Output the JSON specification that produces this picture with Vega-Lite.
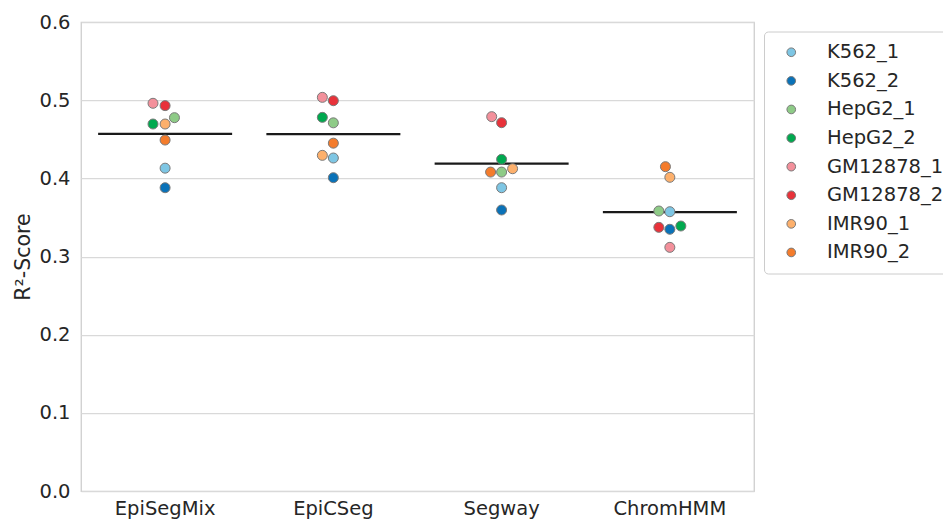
{
  "$schema": "https://vega.github.io/schema/vega-lite/v6.json",
  "width": 673,
  "height": 469,
  "autosize": "none",
  "padding": {"left": 81, "top": 22, "right": 200, "bottom": 30},
  "config": {
    "font": "DejaVu Sans",
    "view": {"stroke": "#cccccc", "strokeWidth": 1.25},
    "axis": {"labelFont": "DejaVu Sans", "titleFont": "DejaVu Sans", "labelColor": "#262626", "titleColor": "#262626", "labelFontSize": 19.5, "titleFontSize": 20.5, "titleFontWeight": "normal", "domain": false, "ticks": false}
  },
  "data": {
    "values": [
      {"method": "EpiSegMix", "sample": "K562_1", "r2": 0.413, "swarm": 0},
      {"method": "EpiSegMix", "sample": "K562_2", "r2": 0.388, "swarm": 0},
      {"method": "EpiSegMix", "sample": "HepG2_1", "r2": 0.4776, "swarm": 0.85},
      {"method": "EpiSegMix", "sample": "HepG2_2", "r2": 0.4695, "swarm": -1.1},
      {"method": "EpiSegMix", "sample": "GM12878_1", "r2": 0.496, "swarm": -1.1},
      {"method": "EpiSegMix", "sample": "GM12878_2", "r2": 0.493, "swarm": 0},
      {"method": "EpiSegMix", "sample": "IMR90_1", "r2": 0.4695, "swarm": 0},
      {"method": "EpiSegMix", "sample": "IMR90_2", "r2": 0.449, "swarm": 0},
      {"method": "EpiCSeg", "sample": "K562_1", "r2": 0.426, "swarm": 0},
      {"method": "EpiCSeg", "sample": "K562_2", "r2": 0.4008, "swarm": 0},
      {"method": "EpiCSeg", "sample": "HepG2_1", "r2": 0.471, "swarm": 0},
      {"method": "EpiCSeg", "sample": "HepG2_2", "r2": 0.478, "swarm": -1},
      {"method": "EpiCSeg", "sample": "GM12878_1", "r2": 0.5036, "swarm": -1},
      {"method": "EpiCSeg", "sample": "GM12878_2", "r2": 0.4993, "swarm": 0},
      {"method": "EpiCSeg", "sample": "IMR90_1", "r2": 0.4294, "swarm": -1},
      {"method": "EpiCSeg", "sample": "IMR90_2", "r2": 0.445, "swarm": 0},
      {"method": "Segway", "sample": "K562_1", "r2": 0.388, "swarm": 0},
      {"method": "Segway", "sample": "K562_2", "r2": 0.3595, "swarm": 0},
      {"method": "Segway", "sample": "HepG2_1", "r2": 0.408, "swarm": 0},
      {"method": "Segway", "sample": "HepG2_2", "r2": 0.4243, "swarm": 0},
      {"method": "Segway", "sample": "GM12878_1", "r2": 0.4789, "swarm": -0.9},
      {"method": "Segway", "sample": "GM12878_2", "r2": 0.4712, "swarm": 0},
      {"method": "Segway", "sample": "IMR90_1", "r2": 0.4123, "swarm": 1},
      {"method": "Segway", "sample": "IMR90_2", "r2": 0.408, "swarm": -1},
      {"method": "ChromHMM", "sample": "K562_1", "r2": 0.3573, "swarm": 0},
      {"method": "ChromHMM", "sample": "K562_2", "r2": 0.3348, "swarm": 0},
      {"method": "ChromHMM", "sample": "HepG2_1", "r2": 0.3582, "swarm": -1},
      {"method": "ChromHMM", "sample": "HepG2_2", "r2": 0.339, "swarm": 1},
      {"method": "ChromHMM", "sample": "GM12878_1", "r2": 0.3117, "swarm": 0},
      {"method": "ChromHMM", "sample": "GM12878_2", "r2": 0.3373, "swarm": -1},
      {"method": "ChromHMM", "sample": "IMR90_1", "r2": 0.4013, "swarm": 0},
      {"method": "ChromHMM", "sample": "IMR90_2", "r2": 0.4149, "swarm": -0.4}
    ]
  },
  "encoding": {
    "x": {"field": "method", "type": "nominal", "sort": ["EpiSegMix", "EpiCSeg", "Segway", "ChromHMM"], "title": null,
          "scale": {"paddingInner": 0, "paddingOuter": 0},
          "axis": {"labelAngle": 0, "labelPadding": 8, "grid": false}},
    "y": {"field": "r2", "type": "quantitative", "title": "R²-Score",
          "scale": {"domain": [0, 0.6]},
          "axis": {"values": [0, 0.1, 0.2, 0.3, 0.4, 0.5, 0.6], "format": ".1f", "labelPadding": 11, "titlePadding": 5, "gridColor": "#d9d9d9", "gridWidth": 1.25}}
  },
  "layer": [
    {
      "mark": {"type": "tick", "color": "#1a1a1a", "thickness": 2.2, "size": 134},
      "encoding": {"y": {"aggregate": "mean", "field": "r2", "type": "quantitative"}}
    },
    {
      "mark": {"type": "circle", "size": 100, "opacity": 1, "stroke": "#7a7a7a", "strokeWidth": 1},
      "encoding": {
        "xOffset": {"field": "swarm", "type": "quantitative", "scale": {"domain": [-1, 1], "range": [73.1, 95.1]}},
        "color": {"field": "sample", "type": "nominal", "title": null,
          "sort": ["K562_1", "K562_2", "HepG2_1", "HepG2_2", "GM12878_1", "GM12878_2", "IMR90_1", "IMR90_2"],
          "scale": {"domain": ["K562_1", "K562_2", "HepG2_1", "HepG2_2", "GM12878_1", "GM12878_2", "IMR90_1", "IMR90_2"],
                    "range": ["#7ec6e4", "#0a72b8", "#8ecb87", "#00a94f", "#f3909b", "#e8323a", "#fdb06c", "#f47c2c"]},
          "legend": {"orient": "none", "legendX": 683, "legendY": 9.5, "padding": 11, "symbolOffset": 6.5, "labelOffset": 26, "rowPadding": 7.6,
                     "labelFontSize": 19.5, "labelColor": "#262626", "labelFont": "DejaVu Sans", "symbolSize": 75, "symbolStrokeColor": "#7a7a7a", "symbolStrokeWidth": 1,
                     "strokeColor": "#cccccc", "cornerRadius": 4, "fillColor": "white"}}
      }
    }
  ]
}
